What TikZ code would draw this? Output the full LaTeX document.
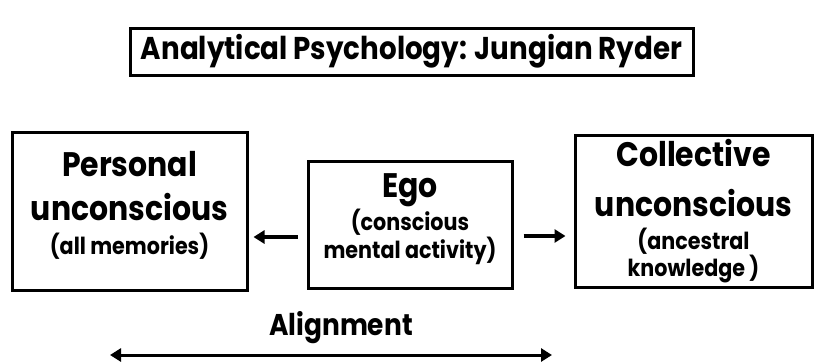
\documentclass[tikz,border=0pt]{standalone}
\usepackage{fontspec}
\setmainfont{Poppins}[FakeStretch=0.88]
\usetikzlibrary{arrows.meta}

\tikzset{
  frame/.style={draw, line width=3pt, align=center, inner sep=0pt, font=\bfseries\fontsize{34}{44}\selectfont},
  flow/.style={line width=3.5pt, -{Triangle[length=11pt,width=13pt]}},
}
\newcommand{\smalltxt}{\fontsize{23.5}{44}\selectfont}

\begin{document}
\begin{tikzpicture}[x=1pt,y=-1pt]
\useasboundingbox (0,0) rectangle (821,362);

\node[frame, minimum width=563pt, minimum height=47pt, font=\bfseries\fontsize{31.5}{36}\selectfont] (title) at (411.5,51.5) {Analytical Psychology: Jungian Ryder};

\node[frame, minimum width=235pt, minimum height=158pt, text depth=17pt] (personal) at (129.5,211)
  {Personal\\ unconscious\\[-10pt] \smalltxt (all memories)};
\node[frame, minimum width=204pt, minimum height=127pt, text depth=16pt] (ego) at (410,224.5)
  {Ego\\[-11pt] \smalltxt (conscious\\[-16pt] \smalltxt mental activity)};
\node[frame, minimum width=237pt, minimum height=152pt] (collective) at (693.5,211)
  {Collective\\[6pt] unconscious\\[-11pt] \smalltxt (ancestral\\[-17pt] \smalltxt knowledge )};

\node[font=\bfseries\fontsize{30}{36}\selectfont] (align) at (341,328) {Alignment};
\coordinate (alignL) at (110,355);
\coordinate (alignR) at (552,355);

\path[draw,flow,shorten <=9pt,shorten >=5pt] ([yshift=-12.5pt]ego.west) -- ([yshift=-12.5pt]ego.west -| personal.east);
\path[draw,flow,shorten <=10pt,shorten >=8pt] ([yshift=-11.5pt]ego.east) -- ([yshift=-11.5pt]ego.east -| collective.west);
\path[draw,line width=3pt,{Triangle[length=11pt,width=13pt]}-{Triangle[length=11pt,width=13pt]}] (alignL) -- (alignR);
\end{tikzpicture}
\end{document}
